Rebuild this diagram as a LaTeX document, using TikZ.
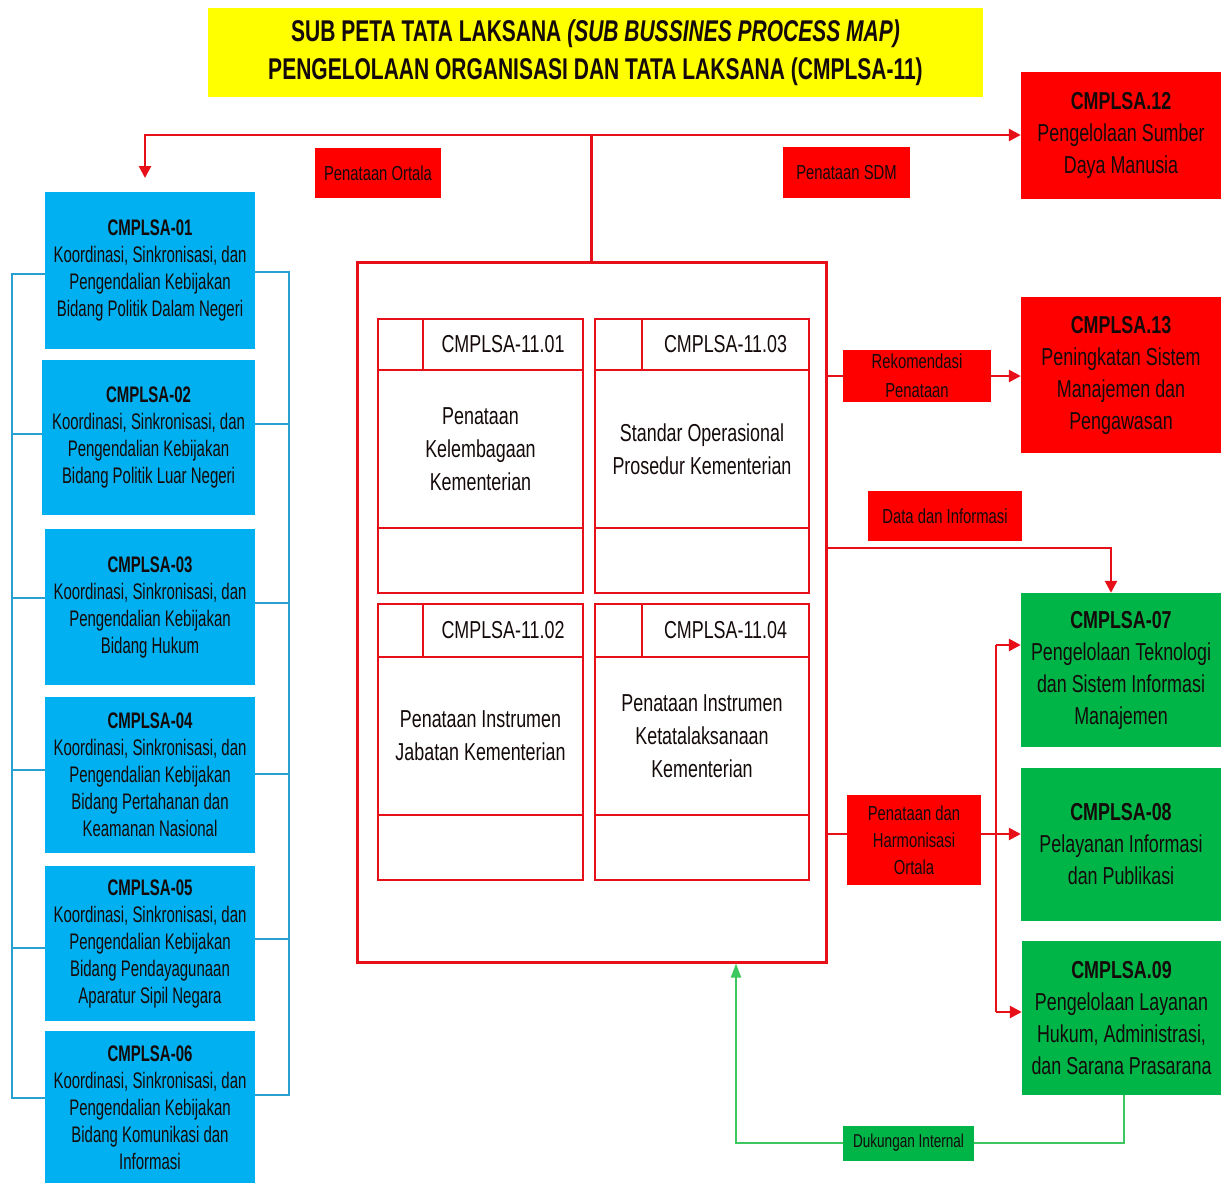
\documentclass[tikz,border=0pt]{standalone}
\usepackage{fontspec}
\setmainfont{Liberation Sans}[FakeStretch=0.73]
\newfontfamily\titleface{Liberation Sans}[FakeStretch=0.70]
\newfontfamily\blueface{Liberation Sans}[FakeStretch=0.665]
\newfontfamily\boxface{Liberation Sans}[FakeStretch=0.73]
\usetikzlibrary{arrows.meta,calc}

\definecolor{ttlyellow}{RGB}{255,255,0}
\definecolor{boxcyan}{RGB}{0,176,240}
\definecolor{linecyan}{RGB}{40,160,210}
\definecolor{boxred}{RGB}{255,0,0}
\definecolor{linered}{RGB}{232,16,24}
\definecolor{boxgreen}{RGB}{0,181,72}
\definecolor{linegreen}{RGB}{60,200,95}
\definecolor{ink}{RGB}{20,10,10}

\tikzset{
  base/.style={rectangle, inner sep=0pt, align=center, text=ink},
  titlebox/.style={base, fill=ttlyellow, minimum width=775pt, minimum height=89pt,
    font=\titleface\bfseries\fontsize{30}{38}\selectfont},
  bluebox/.style={base, fill=boxcyan, minimum width=210pt,
    font=\blueface\fontsize{22.5}{27}\selectfont},
  redbox/.style={base, fill=boxred, minimum width=200pt,
    font=\boxface\fontsize{24.5}{32}\selectfont},
  greenbox/.style={base, fill=boxgreen, minimum width=200pt,
    font=\boxface\fontsize{24.5}{32}\selectfont},
  redtag/.style={base, fill=boxred, font=\boxface\fontsize{20.3}{29}\selectfont},
  greentag/.style={base, fill=boxgreen, font=\boxface\fontsize{18.6}{26}\selectfont},
  cell/.style={base, draw=linered, line width=2.5pt, fill=white,
    font=\boxface\fontsize{24.5}{33}\selectfont},
  frame/.style={rectangle, draw=linered, line width=3pt, inner sep=0pt},
  rline/.style={draw=linered, line width=2.6pt},
  rarr/.style={rline, -{Triangle[length=12pt,width=12pt]}},
  bline/.style={draw=linecyan, line width=2pt},
  gline/.style={draw=linegreen, line width=2pt},
  garr/.style={gline, -{Triangle[length=14pt,width=10pt]}},
}

\begin{document}
\begin{tikzpicture}[x=1pt,y=-1pt]
\useasboundingbox (0,0) rectangle (1221,1183);

% title
\node[titlebox] (title) at (595.5,52.5)
  {SUB PETA TATA LAKSANA \textit{(SUB BUSSINES PROCESS MAP)}\\
   PENGELOLAAN ORGANISASI DAN TATA LAKSANA (CMPLSA-11)};

% central frame with the four sub-processes
\node[frame, minimum width=469pt, minimum height=700pt] (ortala) at (591.5,612) {};

\node[cell, minimum width=45pt, minimum height=51pt] (s1a) at (400.5,344.5) {};
\node[cell, minimum width=160pt, minimum height=51pt] (s1h) at (503,344.5) {CMPLSA-11.01};
\node[cell, minimum width=205pt, minimum height=158pt] (s1b) at (480.5,449) {Penataan\\Kelembagaan\\Kementerian};
\node[cell, minimum width=205pt, minimum height=65pt] (s1f) at (480.5,560.5) {};

\node[cell, minimum width=47pt, minimum height=51pt] (s3a) at (618.5,344.5) {};
\node[cell, minimum width=167pt, minimum height=51pt] (s3h) at (725.5,344.5) {CMPLSA-11.03};
\node[cell, minimum width=214pt, minimum height=158pt] (s3b) at (702,449) {Standar Operasional\\Prosedur Kementerian};
\node[cell, minimum width=214pt, minimum height=65pt] (s3f) at (702,560.5) {};

\node[cell, minimum width=45pt, minimum height=53pt] (s2a) at (400.5,630.5) {};
\node[cell, minimum width=160pt, minimum height=53pt] (s2h) at (503,630.5) {CMPLSA-11.02};
\node[cell, minimum width=205pt, minimum height=158pt] (s2b) at (480.5,736) {Penataan Instrumen\\Jabatan Kementerian};
\node[cell, minimum width=205pt, minimum height=65pt] (s2f) at (480.5,847.5) {};

\node[cell, minimum width=47pt, minimum height=53pt] (s4a) at (618.5,630.5) {};
\node[cell, minimum width=167pt, minimum height=53pt] (s4h) at (725.5,630.5) {CMPLSA-11.04};
\node[cell, minimum width=214pt, minimum height=158pt] (s4b) at (702,736) {Penataan Instrumen\\Ketatalaksanaan\\Kementerian};
\node[cell, minimum width=214pt, minimum height=65pt] (s4f) at (702,847.5) {};

% coordination boxes on the left
\node[bluebox, minimum height=157pt] (c01) at (150,270.5)
  {\textbf{CMPLSA-01}\\Koordinasi, Sinkronisasi, dan\\Pengendalian Kebijakan\\Bidang Politik Dalam Negeri};
\node[bluebox, minimum width=213pt, minimum height=155pt] (c02) at (148.5,437.5)
  {\textbf{CMPLSA-02}\\Koordinasi, Sinkronisasi, dan\\Pengendalian Kebijakan\\Bidang Politik Luar Negeri};
\node[bluebox, minimum height=156pt] (c03) at (150,607)
  {\textbf{CMPLSA-03}\\Koordinasi, Sinkronisasi, dan\\Pengendalian Kebijakan\\Bidang Hukum};
\node[bluebox, minimum height=156pt] (c04) at (150,775)
  {\textbf{CMPLSA-04}\\Koordinasi, Sinkronisasi, dan\\Pengendalian Kebijakan\\Bidang Pertahanan dan\\Keamanan Nasional};
\node[bluebox, minimum height=155pt] (c05) at (150,943.5)
  {\textbf{CMPLSA-05}\\Koordinasi, Sinkronisasi, dan\\Pengendalian Kebijakan\\Bidang Pendayagunaan\\Aparatur Sipil Negara};
\node[bluebox, minimum height=154pt] (c06) at (150,1108)
  {\textbf{CMPLSA-06}\\Koordinasi, Sinkronisasi, dan\\Pengendalian Kebijakan\\Bidang Komunikasi dan\\Informasi};

% brackets joining the coordination boxes
\coordinate (lt) at (12,274);
\coordinate (lb) at (12,1098);
\coordinate (rt) at (289,272);
\coordinate (rb) at (289,1095);
\draw[bline] (c01.west |- lt) -- (lt) -- (lb) -- (c06.west |- lb);
\foreach \n/\y in {c02/434, c03/598, c04/770, c05/948}
  \draw[bline] (12,\y) -- (\n.west |- 0,\y);
\draw[bline] (c01.east |- rt) -- (rt) -- (rb) -- (c06.east |- rb);
\foreach \n/\y in {c02/424, c03/603, c04/774, c05/939}
  \draw[bline] (\n.east |- 0,\y) -- (289,\y);

% units on the right
\node[redbox, minimum height=127pt] (c12) at (1121,135.5)
  {\textbf{CMPLSA.12}\\Pengelolaan Sumber\\Daya Manusia};
\node[redbox, minimum height=156pt] (c13) at (1121,375)
  {\textbf{CMPLSA.13}\\Peningkatan Sistem\\Manajemen dan\\Pengawasan};
\node[greenbox, minimum height=154pt] (c07) at (1121,670)
  {\textbf{CMPLSA-07}\\Pengelolaan Teknologi\\dan Sistem Informasi\\Manajemen};
\node[greenbox, minimum height=153pt] (c08) at (1121,844.5)
  {\textbf{CMPLSA-08}\\Pelayanan Informasi\\dan Publikasi};
\node[greenbox, minimum width=199pt, minimum height=154pt] (c09) at (1121.5,1018)
  {\textbf{CMPLSA.09}\\Pengelolaan Layanan\\Hukum, Administrasi,\\dan Sarana Prasarana};

% flow labels
\node[redtag, minimum width=126pt, minimum height=50pt] (tOrtala) at (378,173) {Penataan Ortala};
\node[redtag, minimum width=127pt, minimum height=51pt] (tSdm) at (846.5,172.5) {Penataan SDM};
\node[redtag, minimum width=148pt, minimum height=52pt] (tRek) at (917,376) {Rekomendasi\\Penataan};
\node[redtag, minimum width=154pt, minimum height=50pt] (tData) at (945,516) {Data dan Informasi};
\node[redtag, minimum width=134pt, minimum height=90pt,
  font=\boxface\fontsize{20.3}{27}\selectfont] (tHarm) at (914,840) {Penataan dan\\Harmonisasi\\Ortala};
\node[greentag, minimum width=131pt, minimum height=35pt] (tDuk) at (908.5,1143) {Dukungan Internal};

% top distribution line
\coordinate (top) at (591.5,135);
\coordinate (t01) at (145,178);
\draw[rline] (ortala.north) -- (top);
\draw[rarr] (top) -| (t01);
\draw[rarr] (top) -- (top -| c12.west);

% recommendation to CMPLSA.13
\draw[rline] (ortala.east |- tRek) -- (tRek.west);
\draw[rarr] (tRek.east) -- (tRek.east -| c13.west);

% data and information to CMPLSA-07
\coordinate (dTurn) at (1111,548);
\draw[rarr] (ortala.east |- dTurn) -- (dTurn) -- (dTurn |- c07.north);

% harmonisation bus to CMPLSA-07/08/09
\coordinate (busTop) at (996,645);
\coordinate (busMid) at (996,834);
\coordinate (busBot) at (996,1012);
\draw[rline] (ortala.east |- busMid) -- (tHarm.west |- busMid);
\draw[rline] (busTop) -- (busBot);
\draw[rarr] (tHarm.east |- busMid) -- (busMid -| c08.west);
\draw[rarr] (busTop) -- (busTop -| c07.west);
\draw[rarr] (busBot) -- (busBot -| c09.west);

% internal support back to the central frame
\coordinate (gUp) at (736,1143);
\draw[gline] ([xshift=2.5pt]c09.south) -- ([xshift=2.5pt]c09.south |- tDuk) -- (tDuk.east);
\draw[garr] (tDuk.west) -- (gUp) -- (gUp |- ortala.south);
\end{tikzpicture}
\end{document}
